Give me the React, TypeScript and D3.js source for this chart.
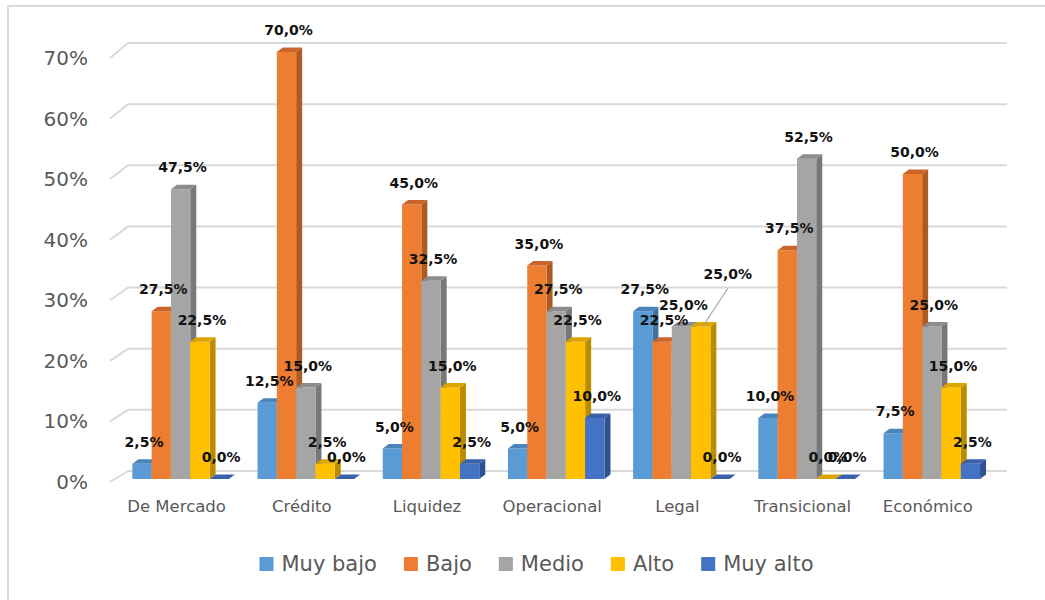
import React, { useMemo } from "react";
import * as d3 from "d3";

const categories = ["De Mercado", "Crédito", "Liquidez", "Operacional", "Legal", "Transicional", "Económico"];
const seriesNames = ["Muy bajo", "Bajo", "Medio", "Alto", "Muy alto"];
const muyBajo = [0.025, 0.125, 0.05, 0.05, 0.275, 0.1, 0.075];
const bajo = [0.275, 0.7, 0.45, 0.35, 0.225, 0.375, 0.5];
const medio = [0.475, 0.15, 0.325, 0.275, 0.25, 0.525, 0.25];
const alto = [0.225, 0.025, 0.15, 0.225, 0.25, 0.0, 0.15];
const muyAlto = [0.0, 0.0, 0.025, 0.1, 0.0, 0.0, 0.025];
const yTicks = [0, 0.1, 0.2, 0.3, 0.4, 0.5, 0.6, 0.7];

const seriesValues = [muyBajo, bajo, medio, alto, muyAlto];
const frontColors = ["#5B9BD5", "#ED7D31", "#A5A5A5", "#FFC000", "#4472C4"];
const sideColors = ["#41719C", "#AE5A21", "#787878", "#BC8C00", "#2F528F"];
const topColors = ["#4A84BA", "#C9652A", "#8C8C8C", "#DDA500", "#3A62AA"];

const FONT = "'DejaVu Sans', sans-serif";
const W = 1045;
const H = 600;
const DX = 6;
const DY = 4.5;

// label moved with a leader line: [category, series, dx, dy]
const movedLabels: [string, string, number, number][] = [["Legal", "Alto", 25, -31]];

const pct1 = (v: number) => d3.format(".1%")(v).replace(".", ",");
const pct0 = d3.format(".0%");

function measure(text: string, font: string) {
  const c = document.createElement("canvas");
  const ctx = c.getContext("2d")!;
  ctx.font = font;
  return ctx.measureText(text).width;
}

export default function App() {
  const x = d3.scaleBand<string>().domain(categories).range([118, 994.4]).paddingInner(0.229).paddingOuter(0.1146);
  const xs = d3.scaleBand<string>().domain(seriesNames).range([0, x.bandwidth()]);
  const yBack = d3.scaleLinear().domain([0, 0.7]).range([471, 43]);
  const yFront = d3.scaleLinear().domain([0, 0.7]).range([482, 58]);
  const yBar = d3.scaleLinear().domain([0, 0.7]).range([479, 52]);

  const legendFontSize = 21;
  const legendItems = useMemo(() => {
    const sq = 14, gapText = 8, gapItem = 27;
    const widths = seriesNames.map((s) => measure(s, `${legendFontSize}px 'DejaVu Sans'`));
    const total = widths.reduce((a, w) => a + sq + gapText + w, 0) + gapItem * (seriesNames.length - 1);
    let cx = 536.5 - total / 2;
    return seriesNames.map((s, i) => {
      const item = { name: s, x: cx, color: frontColors[i] };
      cx += sq + gapText + widths[i] + gapItem;
      return item;
    });
  }, []);

  const bars: any[] = [];
  const labels: any[] = [];
  categories.forEach((cat, ci) => {
    seriesNames.forEach((s, si) => {
      const v = seriesValues[si][ci];
      const x0 = (x(cat) as number) + (xs(s) as number);
      const w = xs.bandwidth();
      const top = yBar(v);
      const base = yBar(0);
      bars.push({ key: `${cat}-${s}`, x0, w, top, base, si });
      const moved = movedLabels.find((m) => m[0] === cat && m[1] === s);
      const lx = x0 + w / 2 + 2;
      const ly = top - 22;
      labels.push({
        key: `${cat}-${s}`,
        text: pct1(v),
        x: moved ? lx + moved[2] : lx,
        y: moved ? ly + moved[3] : ly,
        leader: moved ? { x1: lx + moved[2], y1: ly + moved[3] + 15, x2: lx, y2: top } : null,
      });
    });
  });

  const xLeft = 128;
  const xRight = 1007;

  return (
    <svg width={W} height={H} style={{ position: "absolute", left: 0, top: 0, background: "#fff" }}>
      <rect x={8} y={6} width={1060} height={620} fill="#fff" stroke="#D9D9D9" strokeWidth={2} />
      {/* gridlines on back wall with floor diagonals */}
      {yTicks.map((t) => (
        <g key={t}>
          <line x1={xLeft} x2={xRight} y1={yBack(t)} y2={yBack(t)} stroke="#D9D9D9" strokeWidth={2} />
          <line x1={110} y1={yFront(t)} x2={xLeft} y2={yBack(t)} stroke="#D9D9D9" strokeWidth={2} />
          <text x={88} y={yFront(t) + 1.5} textAnchor="end" dominantBaseline="middle" fontFamily={FONT} fontSize={20} fill="#595959">
            {pct0(t)}
          </text>
        </g>
      ))}
      {/* bars */}
      {bars.map((b) => (
        <g key={b.key}>
          <polygon
            points={`${b.x0 + b.w},${b.top} ${b.x0 + b.w + DX},${b.top - DY} ${b.x0 + b.w + DX},${b.base - DY} ${b.x0 + b.w},${b.base}`}
            fill={sideColors[b.si]}
          />
          <rect x={b.x0} y={b.top} width={b.w} height={b.base - b.top} fill={frontColors[b.si]} />
          <polygon
            points={`${b.x0},${b.top} ${b.x0 + DX},${b.top - DY} ${b.x0 + b.w + DX},${b.top - DY} ${b.x0 + b.w},${b.top}`}
            fill={topColors[b.si]}
          />
        </g>
      ))}
      {/* category labels */}
      {categories.map((c) => (
        <text key={c} x={(x(c) as number) + x.bandwidth() / 2 - 4} y={512} textAnchor="middle" fontFamily={FONT} fontSize={16.5} fill="#595959">
          {c}
        </text>
      ))}
      {/* data labels */}
      {labels.map((l) => (
        <g key={l.key}>
          {l.leader && <line x1={l.leader.x1} y1={l.leader.y1} x2={l.leader.x2} y2={l.leader.y2} stroke="#A6A6A6" strokeWidth={1.2} />}
          <text x={l.x} y={l.y + 5} textAnchor="middle" fontFamily={FONT} fontWeight="bold" fontSize={14} fill="#111">
            {l.text}
          </text>
        </g>
      ))}
      {/* legend */}
      {legendItems.map((it) => (
        <g key={it.name}>
          <rect x={it.x} y={557} width={14} height={14} fill={it.color} />
          <text x={it.x + 22} y={571} fontFamily={FONT} fontSize={legendFontSize} fill="#595959">
            {it.name}
          </text>
        </g>
      ))}
    </svg>
  );
}
